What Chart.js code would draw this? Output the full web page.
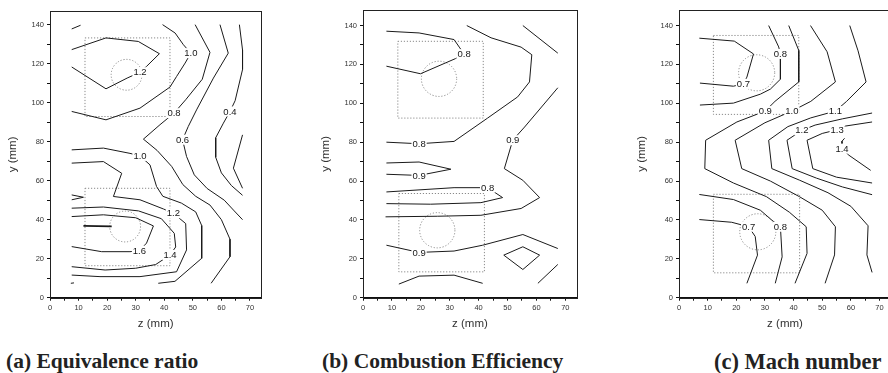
<!DOCTYPE html>
<html>
<head>
<meta charset="utf-8">
<script src="https://cdn.jsdelivr.net/npm/chart.js@4.4.1/dist/chart.umd.min.js"></script>
<style>
  html, body { margin: 0; padding: 0; background: #fff; overflow: hidden; }
  body { width: 888px; height: 373px; position: relative; }
  canvas { position: absolute; top: 0; }
  .cap { position: absolute; top: 349px; line-height: 21px; white-space: nowrap;
         font: bold 21.5px "Liberation Serif", "Times New Roman", serif; color: #222; }
</style>
</head>
<body>
<canvas id="phi" width="264" height="335" style="left:0px"></canvas>
<canvas id="eta" width="266" height="335" style="left:313px"></canvas>
<canvas id="mach" width="264" height="335" style="left:629px"></canvas>
<div class="cap" style="left:6px">(a) Equivalence ratio</div>
<div class="cap" style="left:322px">(b) Combustion Efficiency</div>
<div class="cap" style="left:714px;font-size:22.5px">(c) Mach number</div>
<script>
// contour lines as [z, y] in mm, one array per line

// (a) equivalence ratio
const phiPaths = [
  [[7.6,137.8],[10.7,139.7]],
  [[7.6,127.2],[19.6,133.2],[30.9,131.4],[38.3,125.1],[33.8,118.6],[31.5,115.6],[27,112.6],[19.6,107.1],[7.6,118.3]],
  [[39.4,140],[43.8,135.7],[46.7,129.7],[49.3,125.4],[47.3,120.3],[44.3,113.4],[42,108],[31.5,97.2],[19.6,91.2],[7.6,95.5]],
  [[50.8,140],[56,125.8],[53.3,112],[47.5,101.5],[43.4,94.6],[38.5,88.7],[32.7,81.3],[37.5,75.5],[42.6,67.3],[46.5,58],[51,52],[56,47.5],[60,40],[63,30],[63,21],[56.4,7.4]],
  [[59.5,140],[62.4,125.4],[57.2,112.6],[51.3,96.3],[48.4,87.8],[46.4,81],[47.8,72.4],[50.5,63],[55,56],[61,50],[64.5,44.5],[67.4,40]],
  [[66.3,140],[67.4,127],[67.4,117],[64.8,101],[63,95.5],[60.7,89.5],[58,82],[58,72],[60,64],[63.5,57.5],[67.4,52.5]],
  [[67.4,83.5],[64.2,66.4],[67.4,56.1]],
  [[7.6,75.8],[18.7,76.7],[28,74],[31.5,72.7],[35,68.1],[37.3,57],[39.5,52],[46,48.5],[51,44],[53.1,37],[53.1,20.2],[43.75,8.4],[37.9,7.4]],
  [[7.3,7.4],[8.4,7.6]],
  [[7.6,69],[18.7,69.8],[25.1,63.8],[22.2,51.9],[31.5,50.2],[39.7,45.5],[43.2,43.3],[47.5,38],[47.8,24.5],[44.3,13.3],[31.5,10.8],[17.5,10.8],[7.6,11.6]],
  [[7.6,52.7],[11.7,51.5],[7.6,50.2]],
  [[7.6,45.9],[18.7,46.5],[31,44.5],[39,40.5],[43.5,33],[44,26],[42,21.9],[37,17],[30,15.1],[19.3,14.2],[7.6,15.9]],
  [[7.6,41.6],[18.7,42.5],[30,41],[36.2,36.8],[33.8,28],[31.3,24.1],[28,23.6],[18.1,23.6],[7.6,26.2]]
];
const phiCore = [[11.7,36.8],[21.6,36.6]];
const phiLabels = ['1.2','1.0','0.8','0.4','0.6','1.0','1.2','1.4','1.6'];
const phiLabelAt = [[31.5,115.6],[49.3,125.4],[43.4,94.6],[63,95.5],[46.4,81],[31.5,72.7],[43.2,43.3],[42,21.9],[31.3,24.1]];
const phiRects = [[12.25,92.9,42,133.2],[12.25,16.4,42,56.1]];
const phiHoles = [[26.8,114.3],[26.3,36.5]];

// (b) combustion efficiency
const etaPaths = [
  [[8.1,137.1],[19.4,136.2],[31.5,132.8],[33.5,128.5],[35,125.3],[32,123],[19.9,115.2],[8.1,119.1]],
  [[35.9,140],[44.3,133.7],[54.7,128.9],[58.4,125],[57.6,111],[53.5,103.3],[43.1,92.4],[31.5,80.4],[19.4,79.2],[8.1,80]],
  [[55.3,140],[67.4,125.8]],
  [[67.4,108],[55.9,87.8],[51.8,81],[48.9,66.4],[55.3,60.4],[61.1,51.5],[54.7,45.9],[40.8,42.4],[25.7,41.9],[7.8,41.6]],
  [[8.1,69.3],[19.4,69.8],[30.4,66.1],[19.4,62.9],[8.1,63.5]],
  [[8.1,54.4],[31.5,56.6],[43.1,56.6],[48.3,51.5],[40.8,48.9],[23.4,48.1],[8.1,48.4]],
  [[8.1,27],[19.4,23.3],[31.5,24],[41.4,27],[55.3,32.5],[67.4,25.3]],
  [[48.7,21.9],[55.3,26.2],[61.1,21.9],[55.3,14.5],[48.7,21.9]],
  [[60.5,7.4],[67.4,17.1]],
  [[12.4,7],[19.4,11.1],[31.5,11.6],[41.4,7.4]]
];
const etaLabels = ['0.8','0.8','0.9','0.9','0.8','0.9'];
const etaLabelAt = [[35,125.3],[19.4,79.2],[51.8,81],[19.4,62.9],[43.1,56.6],[19.4,23.3]];
const etaRects = [[12.05,92.4,41.6,131.9],[12.4,13.3,42,53.6]];
const etaHoles = [[26.3,112.6],[25.7,34.7]];

// (c) Mach number
const machPaths = [
  [[7.1,133.5],[19.3,132],[26,125.4],[23.7,113.5],[22.5,110],[19,108.8],[7.3,110.4]],
  [[31.3,140],[34.8,129],[35.4,125.4],[35.4,112.4],[31.9,107.3],[28.4,104.7],[19,100.1],[7.3,99.1]],
  [[38.3,140],[41.8,127.2],[41.8,111],[33.5,101],[30.1,96],[20.2,90.4],[9.3,81],[9.0,66.4],[19,59],[30.5,52],[38.5,44],[44.4,36.5],[44.7,22.8],[40.5,7.4]],
  [[45.9,140],[51.7,126.5],[54.6,111],[46,101],[39.4,96],[30,90],[19.6,81],[21.9,66.4],[31.9,60],[42,52],[50,45],[54.6,36.5],[54.3,22],[51,7.4]],
  [[59.6,140],[62.5,127],[65.3,111],[58.5,101],[54.6,96],[46,92.5],[38,88],[31.3,81],[32.4,66.4],[42,60.5],[52,54],[60,47],[66,37],[65.6,22],[67.4,13]],
  [[67.4,95],[57,92],[47.5,88.8],[42.9,86.1],[37.7,81],[39.5,66.4],[48,61.5],[57,57],[67.4,53]],
  [[67.4,90.4],[58.1,88.3],[55.2,86.4],[50,84.5],[44.7,81],[46.7,66.4],[55,62],[67.4,59]],
  [[57.8,82],[56.9,80.5],[56.9,76.7],[59.3,73.3],[66.9,65.5]],
  [[7.1,53.1],[19,50.5],[28.4,45],[32.4,39.9],[35.4,36.5],[36,21],[33.6,7.4]],
  [[7.1,40.2],[18.4,38.8],[24.3,36.5],[26.6,31.5],[27.4,21.9],[23.7,7.4]]
];
const machLabels = ['0.8','0.7','0.9','1.0','1.1','1.2','1.3','1.4','0.7','0.8'];
const machLabelAt = [[35.4,125.4],[22.5,110],[30.1,96],[39.4,96],[54.6,96],[42.9,86.1],[55.2,86.4],[56.9,76.7],[24.3,36.5],[35.4,36.5]];
const machRects = [[12,94.3,41.8,134.9],[12,12.8,42.1,53.2]];
const machHoles = [[27.1,115.7],[27.5,33.9]];

const tickFont = { family: '"Liberation Sans", Arial, sans-serif', size: 7.5 };
const titleFont = { family: '"Liberation Sans", Arial, sans-serif', size: 11.5 };

// dotted injector boxes and circles, drawn under the contours
const markers = {
  id: 'markers',
  beforeDatasetsDraw(chart, args, o) {
    const { ctx, scales: { x, y } } = chart;
    ctx.save();
    ctx.strokeStyle = '#8a8a8a';
    ctx.lineWidth = 1;
    ctx.setLineDash([1.2, 1.8]);
    o.rects.forEach(([z0, y0, z1, y1]) => {
      const l = x.getPixelForValue(z0), r = x.getPixelForValue(z1);
      const t = y.getPixelForValue(y1), b = y.getPixelForValue(y0);
      ctx.strokeRect(l, t, r - l, b - t);
    });
    o.holes.forEach(([zc, yc]) => {
      const cx = x.getPixelForValue(zc), cy = y.getPixelForValue(yc);
      const rad = x.getPixelForValue(zc + o.r) - cx;
      ctx.beginPath();
      ctx.arc(cx, cy, rad, 0, Math.PI * 2);
      ctx.stroke();
    });
    ctx.restore();
  }
};

// value labels sitting on the contour lines
const contourLabels = {
  id: 'contourLabels',
  afterDatasetsDraw(chart, args, o) {
    const { ctx, scales: { x, y } } = chart;
    ctx.save();
    ctx.font = '9.5px "Liberation Sans", Arial, sans-serif';
    ctx.textAlign = 'center';
    ctx.textBaseline = 'middle';
    o.text.forEach((t, i) => {
      const px = x.getPixelForValue(o.at[i][0]);
      const py = y.getPixelForValue(o.at[i][1]);
      const w = ctx.measureText(t).width;
      ctx.fillStyle = '#fff';
      ctx.fillRect(px - w / 2 - 1, py - 5, w + 2, 10);
      ctx.fillStyle = '#151515';
      ctx.fillText(t, px, py + 0.5);
    });
    ctx.restore();
  }
};

// closed frame round the plot area
const frame = {
  id: 'frame',
  afterDraw(chart) {
    const { ctx, chartArea: a } = chart;
    ctx.save();
    ctx.strokeStyle = '#222';
    ctx.lineWidth = 1;
    ctx.strokeRect(Math.round(a.left) + 0.5, Math.round(a.top) + 0.5,
                   Math.round(a.right - a.left), Math.round(a.bottom - a.top));
    ctx.restore();
  }
};

function contourChart(id, paths, extra, labels, labelAt, rects, holes, cfg) {
  const lines = paths.map(p => ({
    data: p.map(([z, yv]) => ({ x: z, y: yv })),
    showLine: true, borderColor: '#1a1a1a', borderWidth: 1,
    pointRadius: 0, tension: 0, fill: false
  }));
  extra.forEach(p => lines.push({
    data: p.map(([z, yv]) => ({ x: z, y: yv })),
    showLine: true, borderColor: '#1a1a1a', borderWidth: 1.7,
    pointRadius: 0, tension: 0, fill: false
  }));
  return new Chart(document.getElementById(id), {
    type: 'scatter',
    data: { datasets: lines },
    plugins: [markers, contourLabels, frame],
    options: {
      responsive: false,
      animation: false,
      events: [],
      layout: { padding: { top: cfg.top, right: cfg.right, left: 0, bottom: 0 } },
      plugins: {
        legend: { display: false },
        tooltip: { enabled: false },
        markers: { rects: rects, holes: holes, r: cfg.r },
        contourLabels: { text: labels, at: labelAt }
      },
      scales: {
        x: {
          type: 'linear', min: 0, max: 74,
          grid: { drawOnChartArea: false, tickLength: 3, color: '#111' },
          border: { color: '#111', width: 1 },
          ticks: {
            stepSize: 5, includeBounds: false, autoSkip: false, maxRotation: 0,
            padding: 3, color: '#333', font: tickFont,
            callback: v => (v % 10 === 0 ? v : '')
          },
          title: { display: true, text: 'z (mm)', color: '#333', font: titleFont,
                   padding: { top: 0, bottom: 4 } },
          afterFit: s => { s.height = 335 - 297.7; }
        },
        y: {
          type: 'linear', min: 0, max: cfg.ymax,
          grid: { drawOnChartArea: false, tickLength: 3, color: '#111' },
          border: { color: '#111', width: 1 },
          ticks: {
            stepSize: 10, includeBounds: false, autoSkip: false,
            padding: 3, color: '#333', font: tickFont,
            callback: v => (v % 20 === 0 ? v : '')
          },
          title: { display: true, text: 'y (mm)', color: '#333', font: titleFont,
                   padding: { top: 6, bottom: 0 } },
          afterFit: s => { s.width = 50; }
        }
      }
    }
  });
}

contourChart('phi', phiPaths, [phiCore], phiLabels, phiLabelAt, phiRects, phiHoles,
             { top: 11, right: 2.6, ymax: 147, r: 5.4 });
contourChart('eta', etaPaths, [], etaLabels, etaLabelAt, etaRects, etaHoles,
             { top: 10, right: 2.1, ymax: 148, r: 6.1 });
contourChart('mach', machPaths, [], machLabels, machLabelAt, machRects, machHoles,
             { top: 10, right: 2, ymax: 148, r: 6.3 });
</script>
</body>
</html>
